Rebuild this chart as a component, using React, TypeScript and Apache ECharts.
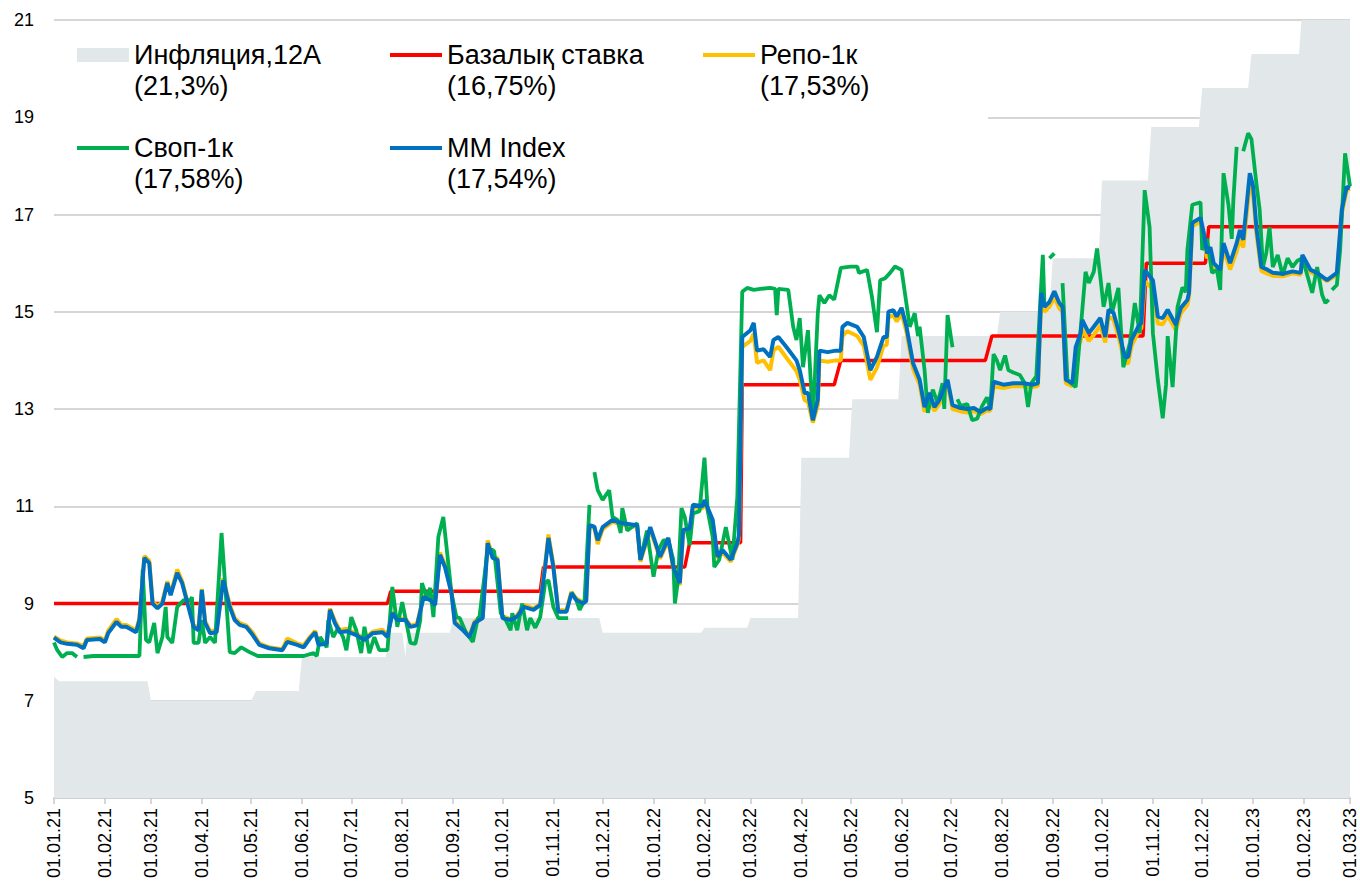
import React, { useEffect, useRef } from "react";
import * as echarts from "echarts";

// x positions are day offsets from 01.01.2021
const monthDays = [0, 31, 59, 90, 120, 151, 181, 212, 243, 273, 304, 334, 365, 396, 424, 455, 485, 516, 546, 577, 608, 638, 669, 699, 730, 761, 789];
const monthLabels = ["01.01.21", "01.02.21", "01.03.21", "01.04.21", "01.05.21", "01.06.21", "01.07.21", "01.08.21", "01.09.21", "01.10.21", "01.11.21", "01.12.21", "01.01.22", "01.02.22", "01.03.22", "01.04.22", "01.05.22", "01.06.22", "01.07.22", "01.08.22", "01.09.22", "01.10.22", "01.11.22", "01.12.22", "01.01.23", "01.02.23", "01.03.23"];

const legendNames = ["Инфляция,12А", "Базалық ставка", "Репо-1к", "Своп-1к", "MM Index"];
const legendValues = ["21,3%", "16,75%", "17,53%", "17,58%", "17,54%"];
const seriesColors = ["#e2e7ea", "#ff0000", "#ffc000", "#00b050", "#0070c0"];

const inflation = [[0,7.5],[3,7.4],[57,7.4],[59,7.0],[120,7.0],[123,7.2],[149,7.2],[151,7.9],[202,7.9],[204,8.4],[212,8.4],[214,7.9],[215,8.4],[241,8.4],[243,8.7],[332,8.7],[334,8.4],[394,8.4],[396,8.5],[422,8.5],[424,8.7],[453,8.7],[455,12.0],[484,12.0],[486,13.2],[514,13.2],[516,14.5],[574,14.5],[576,15.0],[606,15.0],[608,16.1],[636,16.1],[638,17.7],[666,17.7],[668,18.8],[697,18.8],[699,19.6],[727,19.6],[729,20.3],[758,20.3],[760,21.3],[789,21.3]];

const baseRate = [[0,9],[203,9],[205,9.25],[296,9.25],[298,9.75],[384,9.75],[387,10.25],[418,10.25],[419,13.5],[475,13.5],[479,14],[567,14],[571,14.5],[663,14.5],[665,16],[701,16],[703,16.75],[789,16.75]];

const repo = [[0,8.32],[4,8.24],[8,8.2],[14,8.18],[18,8.12],[20,8.28],[28,8.3],[31,8.24],[33,8.44],[38,8.68],[41,8.56],[44,8.56],[50,8.45],[52,8.7],[55,9.98],[58,9.88],[60,9.05],[63,8.94],[66,9.04],[69,9.46],[71,9.2],[75,9.7],[78,9.46],[85,8.56],[88,8.5],[90,9.3],[92,8.64],[95,8.43],[99,8.45],[103,9.52],[107,8.98],[110,8.7],[113,8.6],[117,8.55],[121,8.4],[125,8.18],[131,8.1],[139,8.06],[142,8.28],[148,8.18],[152,8.14],[156,8.32],[159,8.44],[161,8.18],[166,8.2],[168,8.9],[171,8.64],[174,8.45],[178,8.48],[184,8.38],[189,8.28],[194,8.42],[200,8.46],[203,8.35],[206,8.82],[209,8.7],[214,8.68],[217,8.55],[221,8.58],[225,9.16],[229,9.1],[232,9.0],[235,10.05],[238,9.8],[242,9.24],[244,8.63],[249,8.48],[253,8.34],[256,8.63],[261,8.73],[264,10.3],[267,9.98],[270,9.93],[273,8.74],[278,8.68],[282,8.76],[286,8.97],[292,8.9],[296,9.0],[299,9.8],[301,10.42],[304,9.8],[307,8.86],[312,8.86],[315,9.24],[318,9.1],[322,9.03],[324,9.08],[326,10.58],[329,10.55],[331,10.22],[334,10.53],[340,10.68],[346,10.62],[355,10.58],[357,9.86],[363,10.52],[369,9.92],[374,10.3],[377,9.72],[381,9.38],[383,10.46],[387,10.5],[389,10.98],[395,10.96],[396,11.08],[401,10.68],[404,9.92],[407,10.05],[412,9.86],[416,10.2],[417,10.35],[419,14.28],[424,14.4],[426,14.55],[428,13.95],[432,14.0],[436,13.8],[438,14.2],[441,14.28],[446,14.05],[452,13.78],[454,13.6],[457,13.18],[459,13.15],[462,12.72],[465,13.08],[466,14.0],[471,13.97],[476,14.0],[479,14.0],[480,14.5],[483,14.6],[489,14.5],[493,14.3],[497,13.6],[501,13.85],[505,14.3],[507,14.32],[508,14.88],[511,14.93],[513,14.8],[516,14.97],[519,14.58],[523,13.83],[527,13.5],[530,12.94],[533,13.22],[536,12.96],[539,13.1],[544,13.52],[547,13.0],[552,12.95],[556,12.93],[560,12.96],[564,12.89],[568,12.97],[570,12.96],[572,13.46],[578,13.43],[584,13.47],[590,13.47],[596,13.45],[599,13.47],[601,15.22],[603,15.0],[606,15.1],[609,15.3],[612,15.07],[614,15.0],[616,13.53],[620,13.47],[622,14.12],[625,14.4],[626,14.64],[630,14.4],[633,14.52],[637,14.72],[640,14.37],[642,14.9],[645,14.84],[648,14.5],[652,13.94],[654,13.94],[656,14.3],[660,14.57],[662,14.67],[664,15.62],[669,15.47],[672,14.76],[675,14.74],[678,14.92],[683,14.62],[686,14.97],[690,15.14],[691,15.32],[693,16.76],[698,16.86],[700,16.52],[702,16.1],[704,16.22],[706,15.9],[710,15.76],[712,16.3],[716,15.87],[720,16.24],[722,16.52],[724,16.32],[728,17.62],[730,17.42],[732,16.62],[735,15.84],[739,15.78],[742,15.74],[748,15.73],[754,15.79],[759,15.76],[760,16.11],[765,15.81],[769,15.76],[775,15.63],[781,15.76],[784,17.02],[787,17.5],[789,17.53]];

const swap = [[0,8.2],[2,8.04],[5,7.9],[8,7.98],[11,7.98],[14,7.9],[15,null],[18,7.9],[24,7.92],[38,7.92],[51,7.92],[52,7.92],[54,9.7],[56,8.25],[58,8.2],[61,8.6],[63,7.98],[66,8.31],[68,8.93],[69,8.31],[72,8.19],[75,8.93],[79,9.07],[83,9.07],[84,9.13],[85,8.19],[88,8.19],[90,8.66],[92,8.19],[95,8.31],[98,8.19],[102,10.45],[104,9.48],[107,8.0],[110,7.98],[114,8.1],[119,8.0],[124,7.92],[139,7.92],[152,7.92],[158,7.98],[160,7.92],[162,8.31],[166,8.1],[167,8.66],[170,8.31],[173,8.5],[176,8.31],[178,8.04],[181,8.72],[184,8.45],[187,7.98],[189,8.52],[192,7.98],[195,8.31],[198,8.04],[203,8.04],[206,9.34],[209,8.52],[212,9.03],[217,8.19],[220,8.17],[223,8.66],[224,9.42],[227,9.13],[229,9.32],[231,8.72],[234,10.37],[237,10.78],[242,9.21],[245,8.72],[247,8.7],[251,8.39],[255,8.21],[258,8.7],[259,8.72],[264,10.1],[267,10.1],[268,10.07],[272,8.8],[275,8.66],[278,8.45],[279,8.8],[282,8.45],[285,9.0],[288,8.45],[290,8.7],[293,8.5],[296,8.72],[299,9.42],[301,9.48],[304,8.93],[307,8.7],[313,8.7],[314,null],[315,9.23],[318,9.07],[320,8.87],[323,9.07],[326,11.03],[327,null],[329,11.7],[331,11.33],[334,11.13],[338,11.33],[340,10.78],[343,10.72],[345,10.45],[346,10.96],[349,10.5],[355,10.65],[357,9.9],[361,10.5],[365,9.55],[368,10.1],[371,10.3],[374,10.3],[377,9.9],[378,9.0],[380,9.5],[382,10.96],[384,10.78],[387,10.2],[389,10.85],[393,10.9],[396,12.0],[398,10.9],[401,10.37],[402,9.75],[405,9.9],[409,10.57],[413,9.9],[416,11.19],[419,15.41],[422,15.49],[426,15.45],[430,15.47],[436,15.49],[439,15.47],[440,14.93],[441,15.47],[447,15.45],[450,14.69],[452,14.42],[454,14.87],[456,13.86],[459,14.62],[462,12.77],[465,14.97],[466,15.34],[469,15.18],[472,15.34],[475,15.25],[479,15.9],[485,15.93],[489,15.93],[490,15.8],[495,15.86],[498,15.3],[501,14.58],[503,15.65],[506,15.69],[509,15.8],[512,15.93],[516,15.86],[521,14.69],[524,14.97],[526,14.5],[527,14.69],[530,13.8],[532,12.92],[535,13.4],[538,13.12],[541,13.53],[542,13.0],[544,14.93],[547,14.27],[548,null],[550,13.2],[552,13.06],[556,13.1],[559,12.77],[562,12.8],[565,13.06],[568,13.24],[570,13.0],[572,14.13],[574,14.0],[576,13.8],[579,14.1],[581,13.8],[584,13.75],[588,13.7],[591,13.53],[593,13.04],[595,13.53],[598,13.67],[602,16.17],[603,15.1],[604,null],[606,16.1],[609,16.2],[610,null],[614,15.59],[617,13.6],[622,13.45],[628,15.82],[630,15.59],[633,15.82],[635,16.3],[637,15.72],[639,15.1],[642,15.59],[644,14.97],[648,15.49],[651,13.86],[655,14.35],[658,15.18],[661,14.56],[664,17.5],[667,16.74],[669,14.56],[672,13.6],[675,12.81],[677,13.5],[678,14.5],[681,13.45],[684,15.1],[687,15.5],[689,15.4],[690,16.27],[693,17.2],[698,17.25],[699,16.27],[702,16.5],[705,15.8],[708,15.86],[710,15.45],[712,17.85],[715,17.2],[717,16.5],[718,17.3],[720,18.39],[721,null],[724,18.3],[727,18.67],[729,18.55],[732,17.64],[734,17.1],[736,15.92],[738,16.2],[740,16.74],[742,15.92],[745,16.17],[748,15.75],[751,16.1],[754,15.92],[757,16.05],[760,16.1],[763,15.75],[766,15.39],[769,15.92],[772,15.35],[774,15.18],[776,15.25],[777,null],[778,15.45],[781,15.55],[783,16.27],[786,18.26],[789,17.58]];

const mmIndex = [[0,8.3],[4,8.2],[8,8.17],[14,8.15],[18,8.08],[20,8.25],[28,8.27],[31,8.2],[33,8.39],[38,8.62],[41,8.52],[44,8.52],[50,8.41],[52,8.66],[55,9.94],[58,9.83],[60,9.0],[63,8.9],[66,9.0],[69,9.42],[71,9.17],[75,9.63],[78,9.42],[85,8.52],[88,8.45],[90,9.28],[92,8.6],[95,8.39],[99,8.41],[103,9.48],[107,8.93],[110,8.66],[113,8.56],[117,8.52],[121,8.35],[125,8.15],[131,8.08],[139,8.04],[142,8.21],[148,8.15],[152,8.1],[156,8.29],[159,8.41],[161,8.15],[166,8.17],[168,8.87],[171,8.6],[174,8.41],[178,8.43],[184,8.35],[189,8.25],[194,8.39],[200,8.41],[203,8.31],[206,8.8],[209,8.66],[214,8.66],[217,8.52],[221,8.55],[225,9.13],[229,9.07],[232,8.97],[235,10.0],[238,9.75],[242,9.21],[244,8.6],[249,8.45],[253,8.31],[256,8.6],[261,8.7],[264,10.24],[267,9.94],[270,9.9],[273,8.7],[278,8.66],[282,8.73],[286,8.93],[292,8.87],[296,8.97],[299,9.75],[301,10.35],[304,9.75],[307,8.83],[312,8.83],[315,9.21],[318,9.07],[322,9.0],[324,9.05],[326,10.61],[329,10.58],[331,10.3],[334,10.57],[340,10.72],[346,10.65],[355,10.61],[357,9.9],[363,10.57],[369,9.96],[374,10.35],[377,9.75],[381,9.42],[383,10.51],[387,10.54],[389,11.03],[395,11.0],[396,11.13],[401,10.72],[404,9.96],[407,10.1],[412,9.9],[416,10.24],[417,10.4],[419,14.48],[424,14.62],[426,14.77],[428,14.2],[432,14.23],[436,14.07],[438,14.42],[441,14.48],[446,14.27],[452,14.0],[454,13.8],[457,13.33],[459,13.33],[462,12.77],[465,13.19],[466,14.2],[471,14.17],[476,14.2],[479,14.2],[480,14.69],[483,14.77],[489,14.69],[493,14.48],[497,13.8],[501,14.07],[505,14.48],[507,14.48],[508,15.0],[511,15.03],[513,14.9],[516,15.08],[519,14.69],[523,13.94],[527,13.6],[530,13.04],[533,13.33],[536,13.04],[539,13.19],[544,13.6],[547,13.08],[552,13.02],[556,13.0],[560,13.02],[564,12.94],[568,13.02],[570,13.0],[572,13.56],[578,13.5],[584,13.53],[590,13.53],[596,13.5],[599,13.53],[601,15.39],[603,15.1],[606,15.2],[609,15.42],[612,15.18],[614,15.1],[616,13.6],[620,13.53],[622,14.27],[625,14.56],[626,14.83],[630,14.56],[633,14.69],[637,14.87],[640,14.48],[642,15.04],[645,14.98],[648,14.62],[652,14.07],[654,14.07],[656,14.42],[660,14.69],[662,14.77],[664,15.86],[669,15.65],[672,14.9],[675,14.87],[678,15.04],[683,14.73],[686,15.08],[690,15.24],[691,15.39],[693,16.83],[698,16.93],[700,16.62],[702,16.2],[704,16.33],[706,16.0],[710,15.86],[712,16.41],[716,16.0],[720,16.41],[722,16.68],[724,16.48],[728,17.85],[730,17.58],[732,16.74],[735,15.92],[739,15.86],[742,15.8],[748,15.78],[754,15.83],[759,15.8],[760,16.17],[765,15.86],[769,15.8],[775,15.65],[781,15.8],[784,17.1],[787,17.57],[789,17.54]];

const FONT = "'Liberation Sans', Arial, sans-serif";
const LINE_ICON = "path://M0,0H52V4H0Z";

export default function App() {
  const ref = useRef<HTMLDivElement>(null);

  useEffect(() => {
    document.body.style.margin = "0";
    if (!ref.current) return;
    const chart = echarts.init(ref.current, undefined, { renderer: "svg" });

    const lineSeries = (idx: number, data: any[], width: number) => ({
      name: legendNames[idx],
      type: "line",
      data,
      symbol: "none",
      connectNulls: false,
      lineStyle: { width, color: seriesColors[idx] },
      itemStyle: { color: seriesColors[idx] },
      emphasis: { disabled: true },
    });

    chart.setOption({
      animation: false,
      backgroundColor: "#ffffff",
      textStyle: { fontFamily: FONT },
      grid: { left: 54, right: 10, top: 20, bottom: 85 },
      legend: {
        left: 77,
        top: 8.5,
        width: 960,
        padding: 0,
        itemGap: 0,
        itemWidth: 52,
        itemHeight: 14,
        selectedMode: false,
        data: legendNames.map((n, i) => ({
          name: n,
          icon: i === 0 ? "rect" : LINE_ICON,
          itemStyle: { color: seriesColors[i] },
        })),
        // leading blank line keeps the name level with its icon, value on the next line
        formatter: (name: string) => `\n${name}\n(${legendValues[legendNames.indexOf(name)]})`,
        textStyle: {
          fontFamily: FONT,
          fontSize: 27,
          lineHeight: 31,
          color: "#000",
          width: 256,
        },
      },
      graphic: [
        {
          type: "rect",
          left: 54,
          top: 105,
          z: 1,
          silent: true,
          shape: { width: 934, height: 25 },
          style: { fill: "#ffffff" },
        },
      ],
      xAxis: {
        type: "value",
        min: 0,
        max: 789,
        splitLine: { show: false },
        axisLine: { show: true, lineStyle: { color: "#d0d0d0", width: 2 } },
        axisTick: {
          show: true,
          customValues: monthDays,
          length: 6,
          lineStyle: { color: "#c8c8c8", width: 1.5 },
        },
        axisLabel: {
          customValues: monthDays,
          rotate: 90,
          margin: 10,
          fontSize: 18,
          color: "#000",
          fontFamily: FONT,
          formatter: (v: number) => {
            const i = monthDays.indexOf(Math.round(v));
            return i >= 0 ? monthLabels[i] : "";
          },
        },
      },
      yAxis: {
        type: "value",
        min: 5,
        max: 21,
        interval: 2,
        axisLine: { show: false },
        axisTick: { show: false },
        splitLine: { show: true, lineStyle: { color: "#d6d6d6", width: 2 } },
        axisLabel: { fontSize: 18, color: "#000", margin: 20, fontFamily: FONT },
      },
      series: [
        {
          name: legendNames[0],
          type: "line",
          data: inflation,
          symbol: "none",
          lineStyle: { width: 0, color: seriesColors[0] },
          itemStyle: { color: seriesColors[0] },
          areaStyle: { color: seriesColors[0], opacity: 1, origin: "start" },
          emphasis: { disabled: true },
        },
        lineSeries(1, baseRate, 3.5),
        lineSeries(2, repo, 4),
        lineSeries(3, swap, 3.8),
        lineSeries(4, mmIndex, 4),
      ],
    });

    return () => chart.dispose();
  }, []);

  return <div ref={ref} style={{ width: 1360, height: 883 }} />;
}
